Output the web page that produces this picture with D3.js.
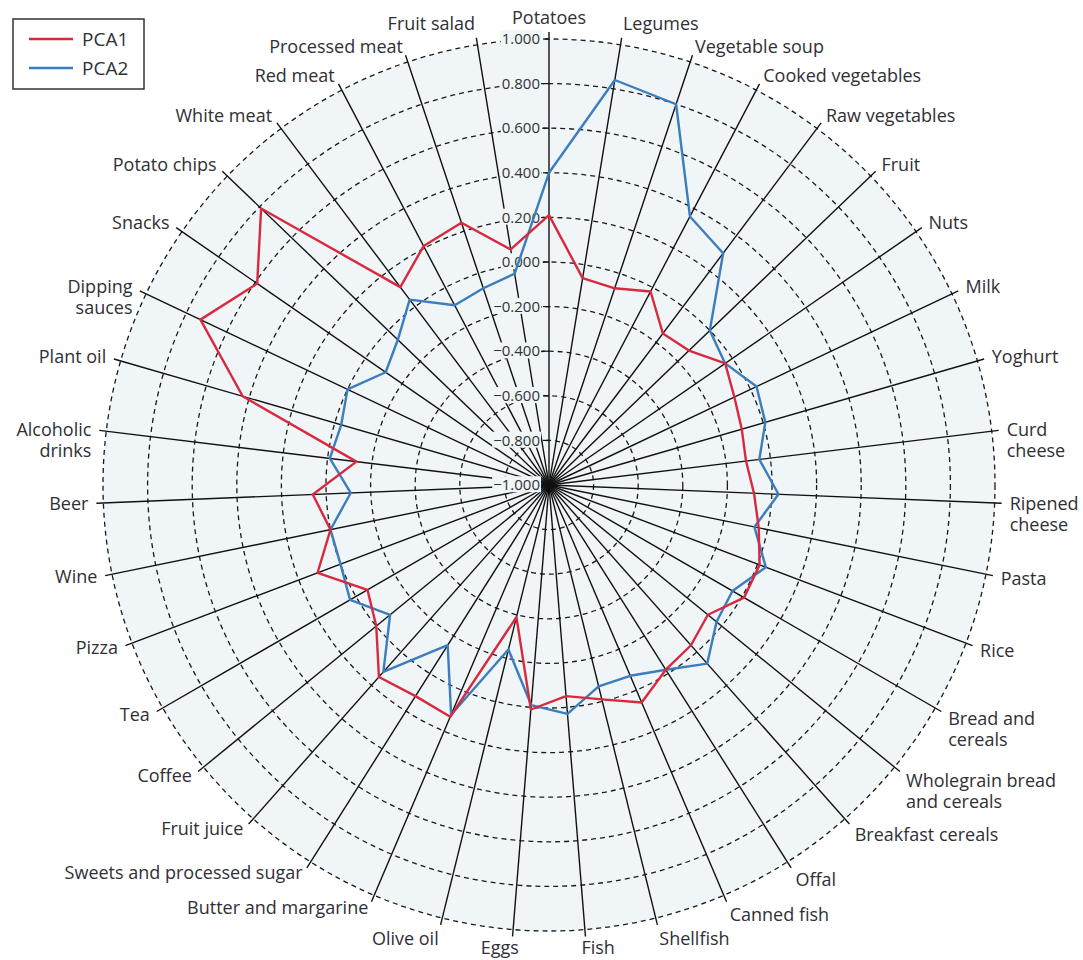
<!DOCTYPE html>
<html>
<head>
<meta charset="utf-8">
<script src="https://cdn.jsdelivr.net/npm/d3@7"></script>
<style>
  body { margin: 0; background: #fff; }
  svg { display: block; font-family: "Open Sans", sans-serif; }
</style>
</head>
<body>
<svg width="1083" height="960"></svg>
<script>
// Food groups, clockwise from the top
const foods = [
  "Potatoes", "Legumes", "Vegetable soup", "Cooked vegetables", "Raw vegetables",
  "Fruit", "Nuts", "Milk", "Yoghurt", "Curd\ncheese", "Ripened\ncheese", "Pasta",
  "Rice", "Bread and\ncereals", "Wholegrain bread\nand cereals", "Breakfast cereals",
  "Offal", "Canned fish", "Shellfish", "Fish", "Eggs", "Olive oil",
  "Butter and margarine", "Sweets and processed sugar", "Fruit juice", "Coffee",
  "Tea", "Pizza", "Wine", "Beer", "Alcoholic\ndrinks", "Plant oil", "Dipping\nsauces",
  "Snacks", "Potato chips", "White meat", "Red meat", "Processed meat", "Fruit salad"
];

// Loadings
const pca1 = [
  0.21, -0.06, -0.07, -0.02, -0.15, -0.13, -0.04, -0.08, -0.10, -0.11, -0.08, -0.04,
  0.01, 0.01, -0.08, -0.04, -0.02, 0.06, -0.01, -0.05, 0.01, -0.39,
  0.13, 0.12, 0.15, 0.00, -0.06, 0.11, 0.00, 0.06, -0.13, 0.43, 0.73,
  0.59, 0.79, 0.11, 0.21, 0.24, 0.07
];
const pca2 = [
  0.40, 0.84, 0.80, 0.36, 0.30, 0.00, -0.04, 0.03, 0.01, -0.05, 0.03, -0.06,
  0.04, -0.05, -0.03, 0.07, -0.02, -0.07, -0.07, 0.03, -0.01, -0.24,
  0.12, -0.15, 0.12, -0.08, 0.03, 0.00, 0.00, -0.11, -0.01, -0.03, 0.00,
  -0.11, -0.06, 0.04, -0.09, -0.07, -0.04
];

const tickValues = [-1, -0.8, -0.6, -0.4, -0.2, 0, 0.2, 0.4, 0.6, 0.8, 1];
const seriesNames = ["PCA1", "PCA2"];
const seriesColors = ["#d8293e", "#3b7dbd"];

const svg = d3.select("svg"),
  width = +svg.attr("width"),
  height = +svg.attr("height");

const cx = 549, cy = 485, R = 446;
const discFill = "#f0f5f8";

const radius = d3.scaleLinear().domain([-1, 1]).range([0, R]);
const angle = d3.scaleLinear().domain([0, foods.length]).range([0, 2 * Math.PI]);

const g = svg.append("g").attr("transform", `translate(${cx},${cy})`);

// light disc
g.append("circle").attr("r", R).attr("fill", discFill);

// dashed rings
g.selectAll(".ring")
  .data(tickValues.slice(1))
  .enter()
  .append("circle")
  .attr("class", "ring")
  .attr("r", d => radius(d))
  .attr("fill", "none")
  .attr("stroke", "#1a1a1a")
  .attr("stroke-width", 1.3)
  .attr("stroke-dasharray", "5,4");

// spokes
const spokeLen = R + 7;
g.selectAll(".spoke")
  .data(foods)
  .enter()
  .append("line")
  .attr("class", "spoke")
  .attr("x1", 0).attr("y1", 0)
  .attr("x2", (d, i) => Math.sin(angle(i)) * spokeLen)
  .attr("y2", (d, i) => -Math.cos(angle(i)) * spokeLen)
  .attr("stroke", "#111")
  .attr("stroke-width", 1.4);

// tick labels along the Potatoes axis
const fmt = d3.format(".3f");
const ticks = g.append("g");
tickValues.forEach(v => {
  const y = -radius(v);
  const t = ticks.append("text")
    .attr("x", -9)
    .attr("y", y)
    .attr("dy", "0.35em")
    .attr("text-anchor", "end")
    .attr("font-size", 15)
    .attr("fill", "#333")
    .text(fmt(v));
  const bb = t.node().getBBox();
  ticks.insert("rect", () => t.node())
    .attr("x", bb.x - 1).attr("y", bb.y + 2)
    .attr("width", bb.width + 2).attr("height", bb.height - 4)
    .attr("fill", discFill);
  ticks.append("line")
    .attr("x1", -6).attr("x2", 0)
    .attr("y1", y).attr("y2", y)
    .attr("stroke", "#111").attr("stroke-width", 1.2);
});

// series
const line = d3.lineRadial()
  .angle((d, i) => angle(i))
  .radius(d => radius(d))
  .curve(d3.curveLinearClosed);

[pca2, pca1].forEach((vals, k) => {
  g.append("path")
    .datum(vals)
    .attr("d", line)
    .attr("fill", "none")
    .attr("stroke", seriesColors[1 - k])
    .attr("stroke-width", 2.4)
    .attr("stroke-linejoin", "round");
});

// food labels
foods.forEach((name, i) => {
  const a = angle(i), s = Math.sin(a), c = Math.cos(a);
  let anchor = s > 0.1 ? "start" : s < -0.1 ? "end" : "middle";
  let k;
  if (c >= 0) k = Math.abs(s) < 0.2 ? 14 : 9;
  else k = (Math.abs(s) < 0.3 || s > 0) ? 14 : 6;
  let x = s * spokeLen + s * 8;
  if (anchor === "middle") x += s * 150;
  let y = -c * spokeLen - c * k;
  if (anchor === "middle" && c < 0) y -= 3;
  const t = g.append("text")
    .attr("y", y)
    .attr("text-anchor", anchor)
    .attr("font-size", 18)
    .attr("fill", "#2f2f36");
  name.split("\n").forEach((ln, j) => {
    t.append("tspan")
      .attr("x", x)
      .attr("dy", j === 0 ? "0.35em" : 21)
      .text(ln);
  });
});

// legend
const legend = svg.append("g");
legend.append("rect")
  .attr("x", 13).attr("y", 19)
  .attr("width", 131).attr("height", 70)
  .attr("fill", "#fff")
  .attr("stroke", "#333")
  .attr("stroke-width", 1.5);
seriesNames.forEach((name, i) => {
  const y = 39 + i * 29;
  legend.append("line")
    .attr("x1", 29).attr("x2", 73)
    .attr("y1", y).attr("y2", y)
    .attr("stroke", seriesColors[i])
    .attr("stroke-width", 2.4);
  legend.append("text")
    .attr("x", 82).attr("y", y)
    .attr("dy", "0.35em")
    .attr("font-size", 19)
    .attr("fill", "#2f2f36")
    .text(name);
});
</script>
</body>
</html>
